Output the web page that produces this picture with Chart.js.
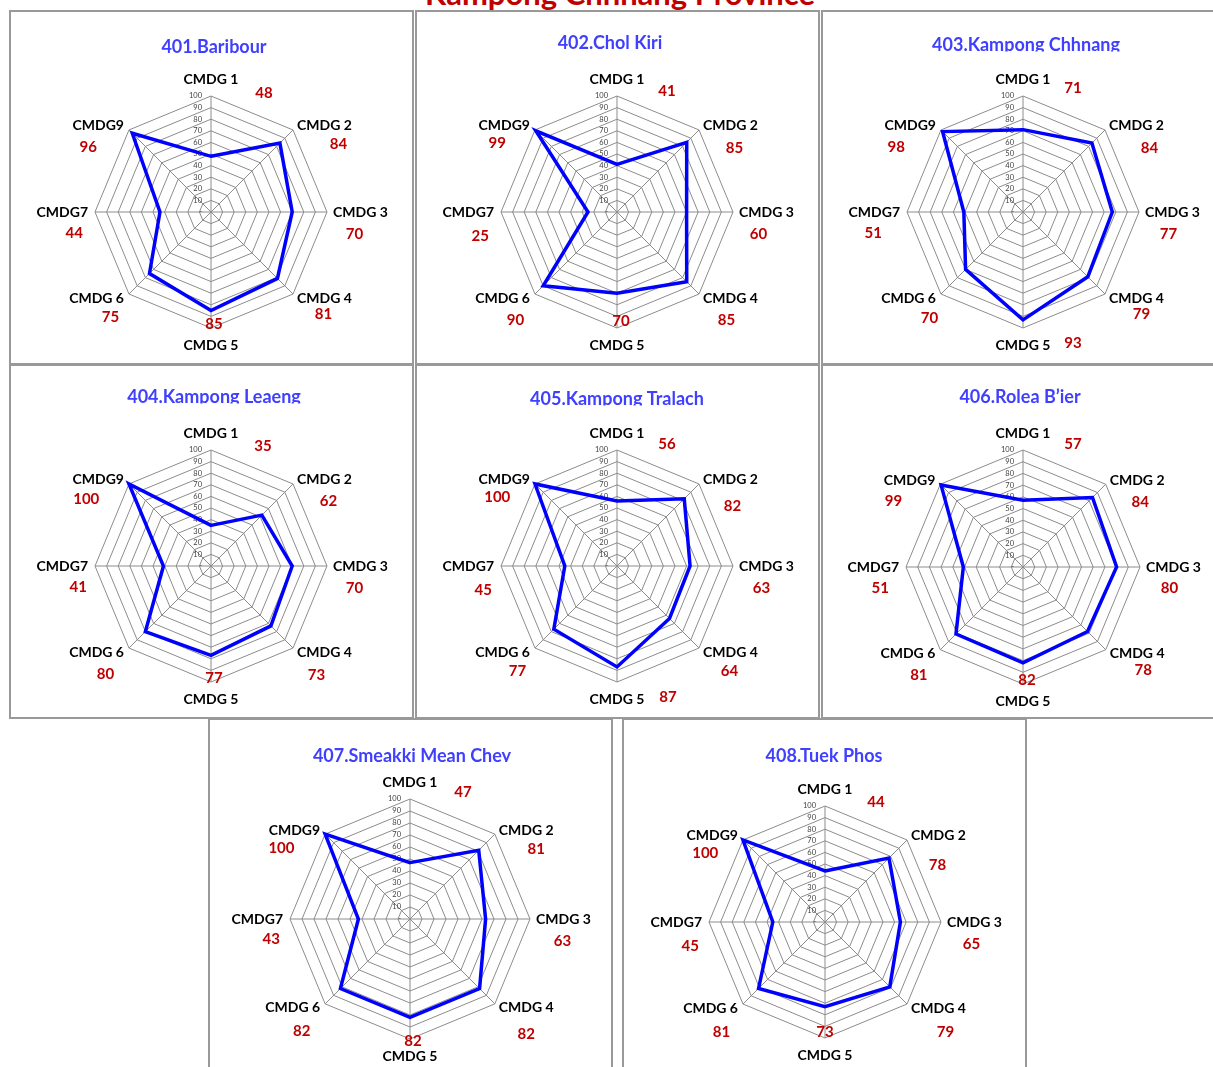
<!DOCTYPE html>
<html><head><meta charset="utf-8">
<script src="https://cdn.jsdelivr.net/npm/chart.js@4.4.1/dist/chart.umd.min.js"></script>
<style>
html,body{margin:0;padding:0;background:#fff;overflow:hidden;width:1213px;height:1067px;}
#main-title{position:absolute;left:320px;width:600px;top:-26px;text-align:center;font:bold 31px Lato, sans-serif;line-height:38px;color:#c00000;white-space:nowrap;}
.panel{position:absolute;width:405px;height:355px;}
.panel canvas{position:absolute;left:0;top:0;}
.panel .frame{position:absolute;left:0;top:0;width:405px;height:355px;box-sizing:border-box;border:2px solid #999;pointer-events:none;}
</style></head><body>
<div id="main-title">Kampong Chhnang Province</div>
<div id="wrap"></div>
<script>
// ---- data ----
const categories = ['CMDG 1','CMDG 2','CMDG 3','CMDG 4','CMDG 5','CMDG 6','CMDG7','CMDG9'];
const districtNames = ['401.Baribour','402.Chol Kiri','403.Kampong Chhnang','404.Kampong Leaeng','405.Kampong Tralach','406.Rolea B\u2019ier','407.Smeakki Mean Chey','408.Tuek Phos'];
const baribour        = [48, 84, 70, 81, 85, 75, 44, 96];
const cholKiri        = [41, 85, 60, 85, 70, 90, 25, 99];
const kampongChhnang  = [71, 84, 77, 79, 93, 70, 51, 98];
const kampongLeaeng   = [35, 62, 70, 73, 77, 80, 41, 100];
const kampongTralach  = [56, 82, 63, 64, 87, 77, 45, 100];
const roleaBier       = [57, 84, 80, 78, 82, 81, 51, 99];
const smeakkiMeanChey = [47, 81, 63, 82, 82, 82, 43, 100];
const tuekPhos        = [44, 78, 65, 79, 73, 81, 45, 100];
const scaleMin = 0, scaleMax = 100, scaleStep = 10;
const seriesList = [baribour, cholKiri, kampongChhnang, kampongLeaeng, kampongTralach, roleaBier, smeakkiMeanChey, tuekPhos];

// ---- layout (positions/styles, not data) ----
const panelBoxes = [
  {left:9,   top:10,  cx:202, cy:202, r:116, titleX:205, titleY:42.5, clip:false},
  {left:415, top:10,  cx:202, cy:202, r:116, titleX:195, titleY:39,   clip:false},
  {left:821, top:10,  cx:202, cy:202, r:116, titleX:205, titleY:41,   clip:true},
  {left:9,   top:364, cx:202, cy:202, r:116, titleX:205, titleY:39,   clip:true},
  {left:415, top:364, cx:202, cy:202, r:116, titleX:202, titleY:41,   clip:true},
  {left:821, top:364, cx:202, cy:203, r:117, titleX:199, titleY:39,   clip:false},
  {left:208, top:718, cx:202, cy:201, r:120, titleX:204, titleY:43.5, clip:true},
  {left:622, top:718, cx:203, cy:204, r:116, titleX:202, titleY:43.5, clip:false}
];
const valueLabelOffsets = [
  [[53,14],[14,18],[-6,22],[-1,16],[3,-21],[14,19],[12,21],[-10,21]],
  [[50,12],[4,22],[-8,22],[-4,22],[4,-24],[13,22],[12,24],[-7,17]],
  [[50,9],[13,22],[-4,22],[5,16],[50,-2],[21,20],[-1,21],[-14,21]],
  [[52,13],[4,21],[-6,22],[-8,23],[3,-21],[9,22],[16,21],[-12,19]],
  [[50,11],[2,26],[-5,22],[-1,19],[51,-2],[15,19],[15,24],[-7,17]],
  [[50,11],[3,22],[-4,21],[6,16],[4,-21],[11,21],[7,21],[-16,21]],
  [[53,10],[10,19],[-1,22],[0,26],[3,-15],[9,23],[14,20],[-13,18]],
  [[51,13],[-1,29],[-3,22],[7,24],[0,-23],[11,24],[14,24],[-7,17]]
];

function makeTextPlugin(box, title, offsets) {
  return {
    id: 'panelText',
    beforeDatasetsDraw(chart) {
      const s = chart.scales.r, ctx = chart.ctx;
      ctx.save();
      ctx.font = '7.5px Lato';
      ctx.fillStyle = '#404040';
      ctx.textAlign = 'right';
      ctx.textBaseline = 'middle';
      s.ticks.forEach(t => {
        const d = s.getDistanceFromCenterForValue(t.value);
        ctx.fillText(t.value === 0 ? '-' : String(t.value), s.xCenter - 9, s.yCenter - d);
      });
      ctx.restore();
    },
    afterDraw(chart) {
      const s = chart.scales.r, ctx = chart.ctx;
      // panel title
      ctx.save();
      if (box.clip) { ctx.beginPath(); ctx.rect(0, 0, chart.width, box.titleY + 0.5); ctx.clip(); }
      ctx.font = 'bold 18px Lato';
      ctx.fillStyle = '#3f3fff';
      ctx.textAlign = 'center';
      ctx.textBaseline = 'alphabetic';
      ctx.fillText(title, box.titleX, box.titleY);
      ctx.restore();
      // axis labels and values
      ctx.save();
      const labels = chart.data.labels, vals = chart.data.datasets[0].data;
      labels.forEach((lab, i) => {
        const v = s.getPointPosition(i, s.drawingArea);
        const a = s.getIndexAngle(i) - Math.PI / 2;
        const c = Math.cos(a), sn = Math.sin(a);
        const vert = Math.abs(c) < 0.01, horiz = Math.abs(sn) < 0.01;
        let x, y, align;
        if (vert) { align = 'center'; x = v.x; y = v.y + Math.sign(sn) * 17; }
        else {
          align = c > 0 ? 'left' : 'right';
          x = v.x + (c > 0 ? (horiz ? 6 : 4) : -(horiz ? 7 : 5));
          y = v.y + (horiz ? 0 : Math.sign(sn) * 4);
        }
        ctx.font = 'bold 14px Lato';
        ctx.fillStyle = '#000';
        ctx.textAlign = align;
        ctx.textBaseline = 'middle';
        ctx.fillText(lab, x, y);
        const w = ctx.measureText(lab).width;
        const lcx = align === 'center' ? x : (align === 'left' ? x + w / 2 : x - w / 2);
        const off = offsets[i];
        ctx.font = 'bold 15px Lato';
        ctx.fillStyle = '#c00000';
        ctx.textAlign = 'center';
        ctx.fillText(String(vals[i]), lcx + off[0], y + off[1]);
      });
      ctx.restore();
    }
  };
}

const wrap = document.getElementById('wrap');
panelBoxes.forEach((box, k) => {
  const div = document.createElement('div');
  div.className = 'panel';
  div.style.left = box.left + 'px';
  div.style.top = box.top + 'px';
  const cv = document.createElement('canvas');
  cv.width = 405; cv.height = 355;
  cv.style.width = '405px'; cv.style.height = '355px';
  div.appendChild(cv);
  const fr = document.createElement('div');
  fr.className = 'frame';
  div.appendChild(fr);
  wrap.appendChild(div);

  new Chart(cv, {
    type: 'radar',
    data: {
      labels: categories,
      datasets: [{
        label: districtNames[k],
        data: seriesList[k],
        borderColor: '#0000ff',
        backgroundColor: 'transparent',
        borderWidth: 3.5,
        pointRadius: 0,
        pointHoverRadius: 0,
        fill: false,
        clip: false,
        tension: 0
      }]
    },
    options: {
      responsive: false,
      animation: false,
      devicePixelRatio: 1,
      layout: { padding: { left: box.cx - box.r, right: 405 - box.cx - box.r, top: box.cy - box.r, bottom: 355 - box.cy - box.r } },
      plugins: { legend: { display: false }, tooltip: { enabled: false }, title: { display: false } },
      scales: {
        r: {
          min: scaleMin, max: scaleMax, beginAtZero: true,
          ticks: { display: false, stepSize: scaleStep },
          pointLabels: { display: false },
          grid: { color: '#8c8c8c', lineWidth: 1 },
          angleLines: { color: '#8c8c8c', lineWidth: 1 }
        }
      }
    },
    plugins: [makeTextPlugin(box, districtNames[k], valueLabelOffsets[k])]
  });
});
</script>
</body></html>
